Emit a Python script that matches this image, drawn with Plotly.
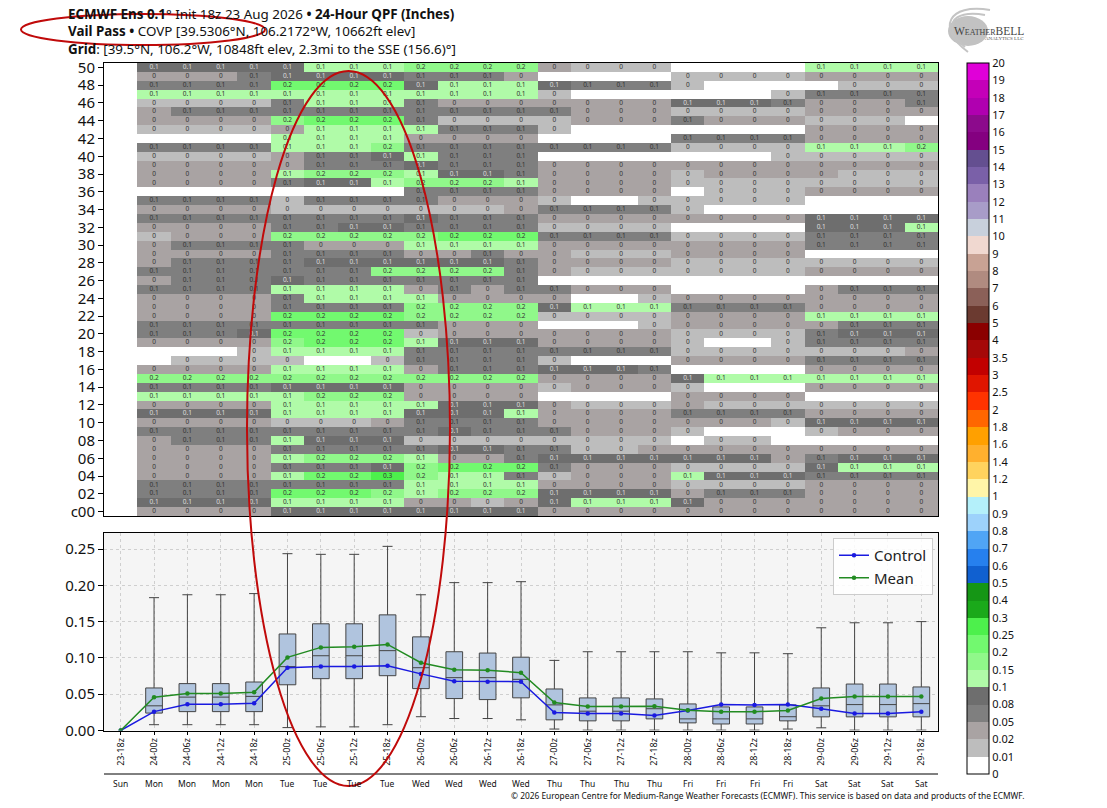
import numpy as np
import plotly.graph_objects as go

W, H = 1107, 808

# forecast steps
step_labels = ["23-18z", "24-00z", "24-06z", "24-12z", "24-18z", "25-00z", "25-06z", "25-12z", "25-18z",
               "26-00z", "26-06z", "26-12z", "26-18z", "27-00z", "27-06z", "27-12z", "27-18z",
               "28-00z", "28-06z", "28-12z", "28-18z", "29-00z", "29-06z", "29-12z", "29-18z"]
day_labels = ["Sun", "Mon", "Mon", "Mon", "Mon", "Tue", "Tue", "Tue", "Tue", "Wed", "Wed", "Wed", "Wed",
              "Thu", "Thu", "Thu", "Thu", "Fri", "Fri", "Fri", "Fri", "Sat", "Sat", "Sat", "Sat"]

# box plot values, inches (first step has no box)
whisker_high = [0, .183, .187, .187, .1886, .2436, .2427, .2427, .2537, .187, .2037, .2037, .205, .0966,
                .1085, .1085, .1085, .1085, .107, .107, .1058, .1415, .1484, .1484, .15]
box_q3 = [0, .0586, .0646, .0646, .0668, .133, .147, .147, .1593, .129, .1085, .1067, .101, .0572,
          .0449, .0449, .0435, .0366, .0325, .0325, .0353, .0586, .064, .064, .06]
box_median = [0, .034, .046, .046, .047, .088, .103, .103, .11, .0865, .0728, .0728, .0705, .0353,
              .0266, .0266, .03, .016, .016, .016, .019, .034, .0357, .0357, .037]
box_q1 = [0, .024, .026, .026, .026, .063, .0714, .0714, .0755, .0577, .044, .0426, .045, .0147,
          .0133, .0133, .016, .0105, .009, .009, .0133, .0188, .0188, .0188, .0188]
whisker_low = [0, .008, .008, .008, .008, .004, .005, .005, .008, .019, .0165, .0165, .0147, .002,
               .0005, .0005, .0005, .0005, .0005, .0005, .002, .0037, .0005, .0005, .0005]
control = [0, .026, .036, .036, .0375, .0865, .088, .088, .0893, .078, .068, .0673, .0673, .0247,
           .0234, .0234, .0206, .0275, .0357, .0353, .0357, .03, .0234, .0234, .026]
mean = [0, .0458, .051, .051, .0527, .1007, .1145, .1154, .1186, .0934, .0838, .083, .0797, .0385,
        .033, .033, .0334, .028, .026, .026, .0275, .044, .0467, .0467, .047]

class_values = {".": 0.0, "a": 0.015, "b": 0.035, "c": 0.065, "d": 0.09, "e": 0.12, "f": 0.17, "g": 0.22, "h": 0.27}

# member 50 first, control (c00) last
member_rows = [
    ". d d d d d e e e f f f f b a a a . . . . e e e e",
    ". b b b c d d d d c c c b . . . . a a a a b b b b",
    ". c c c c g g g g d e e e d c c c a . . . . a a a",
    ". e e e e e e e e e e e e a . . . . . . a c c c c",
    ". a a a a c e e e c b b b b b b b d d d c b b b c",
    ". b c c c c c c c c c c c c b b b a a a a b b b b",
    ". b b b b f g g g c a a a a b b b c b b b a a a .",
    ". a a a a b e e e e c c c a . . . . . . . b b b b",
    ". . . . . e e e e b b b b . . . . c c c c b b b b",
    ". c c c c e e e f c c c c c c c c a a a a e e e f",
    ". a a a a b c c d e c c c . . . . . . . a a a a a",
    ". b b b b b c c c d c c c b b b b b b b b b b b b",
    ". b b b b e f f f e d d c b b b b a b b b b a a a",
    ". b b b b c d d e f f f e b b b b a a a a a a a a",
    ". . . . . . . . . c c c c b b b b . a a a b b b b",
    ". c c c c a c c c c b b b a . . a a a a a . . . .",
    ". b b b b a a a a a a a b c c c c a . . . . . . .",
    ". c c c c c c c c d c c c b b b b b b b b d d d d",
    ". b b b b c c d d c c c c a a a a . . . . d d d e",
    ". a b b b f f f f f g g g c c c c a a a a c c c c",
    ". b c c c c b b b e e e e b b b b b b b b c c c c",
    ". b b b b c c c c b b c b b a a a b b b b . . . .",
    ". b c c c c d d d d d d c b b b b a a a a a a a a",
    ". c c c c c c c f f f f c b a a a a a a a b b b b",
    ". b c c c d c c c c c c c . . . . . . . . . . . .",
    ". c c c c e e e e b c b c c b b b . . . . b c c c",
    ". b b b b c e e e e b b b b . . a b b b b b b b b",
    ". b b b b c c c c f f f f d e e e c c c c b b b b",
    ". b b b b g g g g f f f f a a a a b b b b e e e e",
    ". c c c c c c c c c b b b . . . a b b b b b c c c",
    ". c c c d g g g g a b b b b b b b a a a a c d d d",
    ". b b b b f g g g e d d d b b b b a . . a c c c c",
    ". . . . a e e e e c c c c c c c c a a a a a a a b",
    ". . a a a a . . a c c c c a . . . b b b b c c c c",
    ". b b b b e e e e b c c c d d d c . . . . b b b b",
    ". f f f f f f f f f f f f b b b b d e e e e e e e",
    ". c c c c d d d d b b b b a b b b a . . . b b b b",
    ". e e e e e f f f b b b b . . . . b b b b . . . .",
    ". b b b b e e e e e d d d b a a a b a a a a a a a",
    ". d d d d e e e e d d d e b b b b c c c c b b b b",
    ". b b b b a a a b c c c c b b b b b b b a d d d d",
    ". c c c c c c c c c d c c c b b b a . . . a b b b",
    ". b c c c e d d d a a a a a a a a . a a . . . . .",
    ". b b b b c c c c c d d c c a a b b b b b b b b b",
    ". b b b b e f f f e b b c d d d d d d d b c d d d",
    ". b b b b c c c d f g g g c b b b a a a a d e e e",
    ". b b b b e g g h f e e c a b b b e d d d c c c c",
    ". c c c c c c c c e e e e b b b b a a a a b b b b",
    ". c c c c g g g f e f f f d d d d b c c c b b b b",
    ". d d d d e e e e b b a b d e e e d b b b b b b b",
    ". b b b b d d d d d d d d b b b b b b b b b b b b",
]

# colour bar
level_labels = ["0", "0.01", "0.02", "0.05", "0.08", "0.1", "0.15", "0.2", "0.25", "0.3", "0.4", "0.5", "0.6",
                "0.7", "0.8", "0.9", "1", "1.2", "1.4", "1.6", "1.8", "2", "2.5", "3", "3.5", "4", "5", "6",
                "7", "8", "9", "10", "11", "12", "13", "14", "15", "16", "17", "18", "19", "20"]
level_colors = ["#ffffff", "#bdbdbd", "#a9a3a3", "#7f7f7f", "#6e6e6e", "#b0fba8", "#90f88a", "#72f96f", "#4df04c",
                "#1aa91a", "#159615", "#1060d0", "#2680ee", "#50a5f5", "#9dd2fb", "#b4f0fa", "#fff5a8", "#ffd35e",
                "#ffb02e", "#ffa000", "#ff6600", "#ff3300", "#e01500", "#c20000", "#a50808", "#8b0000", "#6b3a30",
                "#8b6058", "#b08b80", "#c8a294", "#f0d8d0", "#c8d0dc", "#a89cc8", "#9a80bc", "#7a60a8", "#644f90",
                "#840080", "#8c0a8c", "#b000b0", "#c400b8", "#e000d8"]

# pixel -> paper, the margins are zero so paper is the whole page
def px(x):
    return x / W

def py(y):
    return 1 - y / H

codes = [row.split() for row in member_rows[::-1]]
values = np.array([[class_values[c] for c in row] for row in codes])
bounds = np.array([float(s) for s in level_labels])
levels = np.digitize(values, bounds) - 1 + 0.5  # middle of each bin on the bar

n = len(level_colors)
colorscale = []
for i, c in enumerate(level_colors):
    colorscale.append([i / n, c])
    colorscale.append([(i + 1) / n, c])

steps = list(range(len(step_labels)))
members = list(range(len(member_rows)))
member_ticks = members[::2]
member_ticktext = ["c00"] + [f"{m:02d}" for m in member_ticks[1:]]

fig = go.Figure()

fig.add_trace(go.Heatmap(
    z=levels, x=steps, y=members, zmin=0, zmax=n, colorscale=colorscale, hoverinfo="skip",
    xaxis="x", yaxis="y",
    colorbar=dict(
        tickmode="array", tickvals=list(range(n + 1)), ticktext=level_labels,
        x=px(967), xanchor="left", y=py(63), yanchor="top",
        lenmode="pixels", len=711, thicknessmode="pixels", thickness=22,
        outlinecolor="black", outlinewidth=1, borderwidth=0, ticks="", xpad=0, ypad=0,
        tickfont=dict(family="Noto Sans", size=11, color="#111"),
    ),
))

# cell labels, white cells stay empty
cell_x, cell_y, cell_text, cell_color = [], [], [], []
for m in members:
    for s in steps:
        if codes[m][s] == ".":
            continue
        cell_x.append(s)
        cell_y.append(m)
        cell_text.append(f"{round(values[m][s], 1):g}")
        cell_color.append("#dddddd" if codes[m][s] == "d" else "#333333")

fig.add_trace(go.Scatter(
    x=cell_x, y=cell_y, text=cell_text, mode="text", showlegend=False, hoverinfo="skip",
    textfont=dict(family="Noto Sans", size=6.5, color=cell_color), xaxis="x", yaxis="y",
))

# bottom panel
fig.add_trace(go.Box(
    x=steps[1:], q1=box_q1[1:], median=box_median[1:], q3=box_q3[1:],
    lowerfence=whisker_low[1:], upperfence=whisker_high[1:],
    width=0.5, whiskerwidth=0.6, fillcolor="#b0c4de", line=dict(color="#444444", width=1),
    showlegend=False, hoverinfo="skip", xaxis="x2", yaxis="y2",
))
fig.add_trace(go.Scatter(
    x=steps, y=control, name="Control", mode="lines+markers", xaxis="x2", yaxis="y2",
    line=dict(color="#1a1ae0", width=1.5), marker=dict(size=4.5, color="#1a1ae0"),
))
fig.add_trace(go.Scatter(
    x=steps, y=mean, name="Mean", mode="lines+markers", xaxis="x2", yaxis="y2",
    line=dict(color="#228b22", width=1.5), marker=dict(size=4.5, color="#228b22"),
))

axis_font = dict(family="Noto Sans", size=15, color="#111")
frame = dict(showline=True, linecolor="black", linewidth=1, mirror=True)

fig.update_layout(
    width=W, height=H, autosize=False,
    margin=dict(l=0, r=0, t=0, b=0, pad=0, autoexpand=False),
    paper_bgcolor="white", plot_bgcolor="#f5f5f5",
    font=dict(family="Noto Sans", color="#111"),
    xaxis=dict(domain=[px(104), px(938)], range=[-0.5, 24.5], showgrid=False, zeroline=False,
               showticklabels=False, ticks="", **frame),
    yaxis=dict(domain=[py(516), py(63)], range=[-0.5, 50.5], showgrid=False, zeroline=False,
               tickmode="array", tickvals=member_ticks, ticktext=member_ticktext,
               ticks="outside", ticklen=5, tickcolor="black", tickfont=axis_font, **frame),
    xaxis2=dict(domain=[px(104), px(938)], range=[-0.5, 24.5], anchor="y2", zeroline=False,
                tickmode="array", tickvals=steps, ticktext=step_labels, tickangle=-90,
                ticks="outside", ticklen=3, tickcolor="black",
                tickfont=dict(family="Noto Sans", size=9, color="#111"),
                showgrid=True, gridcolor="#cfcfcf", griddash="dot", gridwidth=1, **frame),
    yaxis2=dict(domain=[py(730.5), py(532.7)], range=[0, 0.2725], anchor="x2", zeroline=False,
                tickmode="array", tickvals=[0, .05, .1, .15, .2, .25], tickformat=".2f",
                ticks="outside", ticklen=5, tickcolor="black", tickfont=axis_font,
                showgrid=True, gridcolor="#cfcfcf", griddash="dot", gridwidth=1, **frame),
    legend=dict(x=px(833), xanchor="left", y=py(538), yanchor="top", bgcolor="rgba(255,255,255,0.85)",
                bordercolor="#cccccc", borderwidth=1, font=dict(family="Noto Sans", size=15, color="#222")),
)

# titles
title_lines = [
    ("<b>ECMWF Ens 0.1</b>° Init 18z 23 Aug 2026 <b>•</b> <b>24-Hour QPF (Inches)</b>", 14),
    ("<b>Vail Pass</b> <b>•</b> COVP [39.5306°N, 106.2172°W, 10662ft elev]", 31.5),
    ("<b>Grid</b>: [39.5°N, 106.2°W, 10848ft elev, 2.3mi to the SSE (156.6)°]", 49),
]
for txt, y in title_lines:
    fig.add_annotation(text=txt, xref="paper", yref="paper", x=px(65.5), y=py(y), xanchor="left", yanchor="middle",
                       showarrow=False, font=dict(family="Noto Sans", size=13.4, color="#111"))

for s, d in zip(steps, day_labels):
    fig.add_annotation(text=d, xref="x2", yref="paper", x=s, y=py(783), yanchor="middle", showarrow=False,
                       font=dict(family="Noto Sans", size=8.5, color="#111"))

fig.add_annotation(text="© 2026 European Centre for Medium-Range Weather Forecasts (ECMWF). This service is based on data and products of the ECMWF.",
                   xref="paper", yref="paper", x=px(1026), y=py(795), xanchor="right", yanchor="middle", showarrow=False,
                   font=dict(family="Noto Sans", size=8.37, color="#111"))

# separator above the day names
fig.add_shape(type="line", xref="paper", yref="paper", x0=px(104), x1=px(938), y0=py(774), y1=py(774),
              line=dict(color="black", width=1))

# hand drawn red ellipses
red = "#c00a0a"
fig.add_shape(type="circle", xref="paper", yref="paper", x0=px(247), x1=px(450), y0=py(71), y1=py(786),
              line=dict(color=red, width=2))
fig.add_shape(type="circle", xref="paper", yref="paper", x0=px(21), x1=px(265), y0=py(14), y1=py(45),
              line=dict(color=red, width=2))

# logo: grey swirl with the name over it
fig.add_shape(type="circle", xref="paper", yref="paper", x0=px(948), x1=px(988), y0=py(16), y1=py(46),
              fillcolor="#c2c2c2", line=dict(width=0), layer="below")
swirls = [((990, 10), (948, 3), (936, 28), (968, 52)),
          ((985, 15), (950, 9), (942, 28), (965, 47))]
for a, b, c, d in swirls:
    path = (f"M {px(a[0])} {py(a[1])} C {px(b[0])} {py(b[1])} {px(c[0])} {py(c[1])} {px(d[0])} {py(d[1])}")
    fig.add_shape(type="path", xref="paper", yref="paper", path=path, line=dict(color="#c4c4c4", width=2))
fig.add_annotation(text="W<span style='font-size:8px'>EATHER</span>BELL", xref="paper", yref="paper", x=px(952), y=py(31),
                   xanchor="left", yanchor="middle", showarrow=False,
                   font=dict(family="Liberation Serif", size=11.5, color="#444444"))
fig.add_annotation(text="ANALYTICS LLC", xref="paper", yref="paper", x=px(1026), y=py(38), xanchor="right",
                   yanchor="middle", showarrow=False, font=dict(family="Liberation Serif", size=5, color="#555555"))

fig.write_html("out.html", config={"displayModeBar": False}, post_script="document.body.style.margin='0';")
